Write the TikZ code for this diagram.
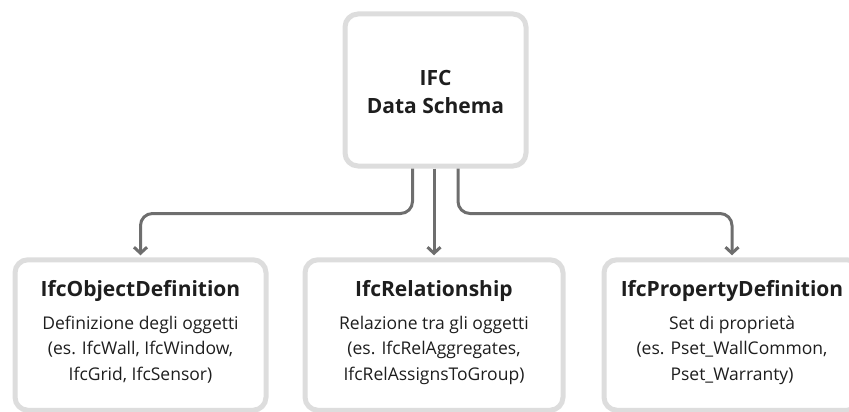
\documentclass[tikz,border=0pt]{standalone}
\usepackage{fontspec}
\setmainfont{Open Sans}
\usetikzlibrary{arrows.meta}
\definecolor{boxline}{HTML}{DDDDDD}
\definecolor{connline}{HTML}{6E6E6E}
\definecolor{ink}{HTML}{1E1E1E}
\tikzset{
  card/.style={draw=boxline, line width=5pt, rounded corners=13pt, fill=white, inner sep=0pt},
  conn/.style={draw=connline, line width=3pt, rounded corners=12pt,
    -{Straight Barb[length=6pt,width=13pt,line width=3pt]}, shorten >=2pt},
  titletext/.style={text=ink, font=\bfseries\fontsize{21}{28.3}\selectfont, align=center},
  headtext/.style={text=ink, font=\bfseries\fontsize{21}{24}\selectfont, anchor=base},
  bodytext/.style={text=ink, font=\fontsize{17.5}{25.5}\selectfont, align=center, anchor=base},
}
\begin{document}
\begin{tikzpicture}[x=1pt, y=-1pt]
  \useasboundingbox (0,0) rectangle (849,412);
  \clip (0,0) rectangle (849,412);

  % root schema box
  \node[card, minimum width=181pt, minimum height=152pt] (root) at (435.5,90) {};
  \node[titletext] (roottxt) at (435.5,92) {IFC\\Data Schema};

  % the three child boxes
  \node[card, minimum width=251pt, minimum height=150.5pt] (obj) at (140.5,335) {};
  \node[card, minimum width=258pt, minimum height=150.5pt] (rel) at (434,335) {};
  \node[card, minimum width=256pt, minimum height=150.5pt] (prop) at (732,335) {};

  % titles; the descriptions are placed by the baseline of their last line
  \node[headtext] (objh) at (140.5,296.5) {IfcObjectDefinition};
  \node[bodytext] (objb) at (140.5,380) {Definizione degli oggetti\\(es. IfcWall, IfcWindow,\\IfcGrid, IfcSensor)};
  \node[headtext] (relh) at (434,296.5) {IfcRelationship};
  \node[bodytext] (relb) at (434,380) {Relazione tra gli oggetti\\(es. IfcRelAggregates,\\IfcRelAssignsToGroup)};
  \node[headtext] (proph) at (732,296.5) {IfcPropertyDefinition};
  \node[bodytext] (propb) at (732,380) {Set di proprietà\\(es. Pset\_WallCommon,\\Pset\_Warranty)};

  % connectors leaving the root box
  \coordinate (s1) at ([xshift=-23pt]root.south);
  \coordinate (s3) at ([xshift=22.5pt]root.south);
  \draw[conn] (s1) -- ++(0,45) -| (obj.north);
  \draw[conn] (rel.north |- root.south) -- (rel.north);
  \draw[conn] (s3) -- ++(0,45) -| (prop.north);
\end{tikzpicture}
\end{document}
